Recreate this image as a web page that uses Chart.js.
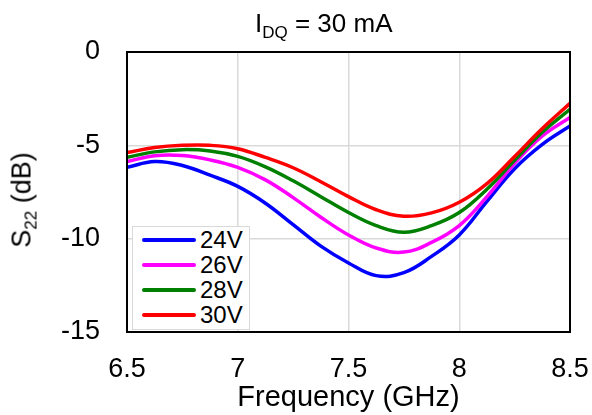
<!DOCTYPE html>
<html lang="en">
<head>
<meta charset="UTF-8">
<title>S22 vs Frequency</title>
<script src="https://cdn.jsdelivr.net/npm/chart.js"></script>
<style>
    body { margin: 0; background: #fff; }
    .wrap {
        position: relative;
        width: 592px;
        height: 415px;
        font-family: "Liberation Sans", Arial, sans-serif;
        color: #000;
    }
    .title {
        position: absolute;
        left: 255px;
        top: 8px;
        font-size: 26px;
        white-space: nowrap;
    }
    .title sub, .ylabel sub { font-size: 17px; vertical-align: -6px; }
    .ylabel {
        position: absolute;
        left: 24px;
        top: 200px;
        font-size: 27px;
        white-space: nowrap;
        transform: translate(-50%, -50%) rotate(-90deg);
    }
    .legend {
        position: absolute;
        left: 132px;
        top: 226px;
        width: 118px;
        height: 104px;
        background: #fff;
        border: 1.5px solid #d9d9d9;
        box-sizing: border-box;
    }
    .legend .item {
        position: absolute;
        left: 9px;
        height: 25px;
        display: flex;
        align-items: center;
        font-size: 24px;
    }
    .legend .swatch {
        width: 54px;
        height: 4px;
        border-radius: 2px;
        margin-right: 4px;
    }
    canvas { position: absolute; left: 0; top: 0; }
</style>
</head>
<body>
<div class="wrap">
    <canvas id="s22Chart" width="592" height="415"></canvas>
    <div class="title">I<sub>DQ</sub> = 30 mA</div>
    <div class="ylabel">S<sub>22</sub> (dB)</div>
    <div class="legend" id="legend"></div>
</div>

<script>
// 周波数 (GHz)
const freqs = [6.5, 6.625, 6.75, 6.875, 7.0, 7.125, 7.25, 7.375, 7.5, 7.625, 7.75, 7.875, 8.0, 8.125, 8.25, 8.375, 8.5];

// S22 (dB) 各ドレイン電圧
const s22_24V = [-6.18, -5.87, -6.08, -6.6, -7.2, -8.1, -9.25, -10.4, -11.3, -11.98, -11.82, -10.95, -9.8, -8.0, -6.25, -4.95, -3.96];
const s22_26V = [-5.87, -5.56, -5.55, -5.78, -6.18, -6.85, -7.8, -8.85, -9.8, -10.5, -10.72, -10.2, -9.3, -7.75, -5.96, -4.5, -3.5];
const s22_28V = [-5.64, -5.35, -5.23, -5.3, -5.59, -6.15, -6.9, -7.75, -8.6, -9.3, -9.65, -9.3, -8.6, -7.35, -5.8, -4.3, -3.07];
const s22_30V = [-5.39, -5.12, -5.0, -5.0, -5.18, -5.65, -6.2, -6.95, -7.75, -8.45, -8.8, -8.62, -8.05, -7.05, -5.6, -4.1, -2.75];

const seriesLabels = ['24V', '26V', '28V', '30V'];
const seriesColors = ['#0000ff', '#ff00ff', '#008000', '#ff0000'];
const seriesData = [s22_24V, s22_26V, s22_28V, s22_30V];

const xTicks = [6.5, 7, 7.5, 8, 8.5];
const yTicks = [-15, -10, -5, 0];

// 外枠を描くプラグイン
const frame = {
    id: 'frame',
    afterDraw(chart) {
        const { ctx, chartArea: a } = chart;
        ctx.save();
        ctx.strokeStyle = '#000';
        ctx.lineWidth = 2;
        ctx.strokeRect(a.left, a.top, a.right - a.left, a.bottom - a.top);
        ctx.restore();
    }
};

const datasets = seriesData.map((vals, i) => ({
    label: seriesLabels[i],
    data: vals.map((v, j) => ({ x: freqs[j], y: v })),
    borderColor: seriesColors[i],
    borderWidth: 3.5,
    pointRadius: 0,
    tension: 0.4,
    fill: false
}));
// 30V を一番上に
datasets.reverse();

const tickFont = { family: '"Liberation Sans", Arial, sans-serif', size: 27 };
const titleFont = { family: '"Liberation Sans", Arial, sans-serif', size: 29 };

new Chart(document.getElementById('s22Chart'), {
    type: 'line',
    data: { datasets },
    options: {
        responsive: false,
        animation: false,
        layout: { padding: { top: 52, right: 22, left: 0, bottom: 0 } },
        plugins: {
            legend: { display: false },
            tooltip: { enabled: false }
        },
        scales: {
            x: {
                type: 'linear',
                min: 6.5,
                max: 8.5,
                afterBuildTicks: s => { s.ticks = xTicks.map(v => ({ value: v })); },
                afterFit: s => { s.height = 83; s.paddingLeft = 0; s.paddingRight = 0; },
                ticks: { color: '#000', font: tickFont, padding: 21, maxRotation: 0, callback: v => String(v) },
                grid: { color: '#d9d9d9', lineWidth: 1.5, drawTicks: false },
                border: { display: false },
                title: { display: true, text: 'Frequency (GHz)', color: '#000', font: titleFont, padding: { top: 0, bottom: 0 } }
            },
            y: {
                min: -15,
                max: 0,
                afterBuildTicks: s => { s.ticks = yTicks.map(v => ({ value: v })); },
                afterFit: s => { s.width = 127; s.paddingTop = 0; s.paddingBottom = 0; },
                ticks: { color: '#000', font: tickFont, padding: 27, callback: v => String(v) },
                grid: { color: '#d9d9d9', lineWidth: 1.5, drawTicks: false },
                border: { display: false }
            }
        }
    },
    plugins: [frame]
});

// HTML 凡例
const legend = document.getElementById('legend');
seriesLabels.forEach((lab, i) => {
    const item = document.createElement('div');
    item.className = 'item';
    item.style.top = (0 + i * 25.3) + 'px';
    item.innerHTML = '<span class="swatch" style="background:' + seriesColors[i] + '"></span>' + lab;
    legend.appendChild(item);
});
</script>
</body>
</html>
